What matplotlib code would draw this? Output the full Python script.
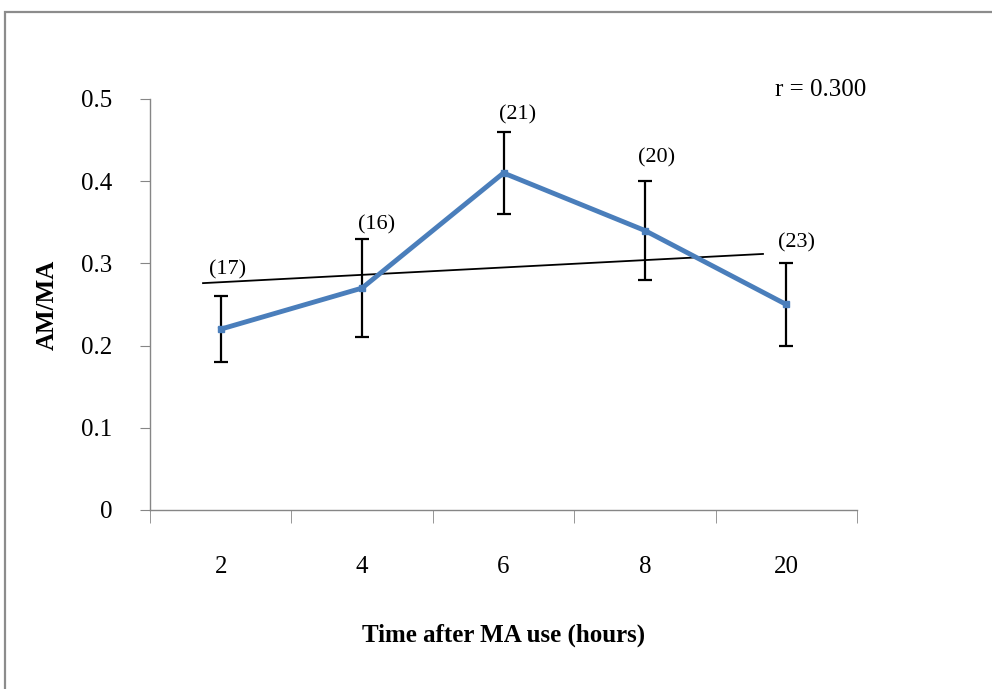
import matplotlib.pyplot as plt
from matplotlib.patches import Rectangle

# data
hours = ['2', '4', '6', '8', '20']
am_ma = [0.22, 0.27, 0.41, 0.34, 0.25]
err_low = [0.18, 0.21, 0.36, 0.28, 0.20]
err_high = [0.26, 0.33, 0.46, 0.40, 0.30]
n_labels = ['(17)', '(16)', '(21)', '(20)', '(23)']
label_x = [1.05, 2.10, 3.10, 4.08, 5.07]
label_y = [0.292, 0.347, 0.481, 0.428, 0.325]
trend_x = [0.875, 4.835]
trend_y = [0.276, 0.3115]

plt.rcParams['font.family'] = ['Liberation Serif', 'DejaVu Serif']

fig = plt.figure(figsize=(9.92, 6.89), dpi=100)
ax = fig.add_axes([150 / 992, 1 - 510 / 689, (857 - 150) / 992, (510 - 99) / 689])

# outer gray frame of the chart area
fig.patches.append(Rectangle((5 / 992, -0.1), 1.2, 1 - 12 / 689 + 0.1,
                             transform=fig.transFigure, fill=False,
                             edgecolor='#8c8c8c', linewidth=1.6))

xs = list(range(1, len(hours) + 1))
yerr = [[v - lo for v, lo in zip(am_ma, err_low)],
        [hi - v for v, hi in zip(am_ma, err_high)]]

ax.plot(trend_x, trend_y, color='black', linewidth=1.3, zorder=2)
ax.errorbar(xs, am_ma, yerr=yerr, fmt='none', ecolor='black',
            elinewidth=1.6, capsize=5, capthick=1.6, zorder=3)
ax.plot(xs, am_ma, color='#4a7ebb', linewidth=3.5, marker='s',
        markersize=5, zorder=4)

for lx, ly, t in zip(label_x, label_y, n_labels):
    ax.text(lx, ly, t, ha='center', va='center', fontsize=16)

ax.text(5.24, 0.511, 'r = 0.300', ha='center', va='center', fontsize=18)

ax.set_xlim(0.5, 5.5)
ax.set_ylim(0, 0.5)
ax.set_yticks([0, 0.1, 0.2, 0.3, 0.4, 0.5])
ax.set_yticklabels(['0', '0.1', '0.2', '0.3', '0.4', '0.5'])
ax.set_xticks(xs)
ax.set_xticklabels(hours)
ax.set_xticks([0.5, 1.5, 2.5, 3.5, 4.5, 5.5], minor=True)

for s in ['top', 'right']:
    ax.spines[s].set_visible(False)
for s in ['left', 'bottom']:
    ax.spines[s].set_color('#868686')
    ax.spines[s].set_linewidth(1.0)

ax.tick_params(axis='y', direction='out', length=7, color='#868686',
               labelsize=18, pad=20)
ax.tick_params(axis='x', which='major', length=0, labelsize=18, pad=33)
ax.tick_params(axis='x', which='minor', direction='out', length=9,
               color='#868686')

ax.set_xlabel('Time after MA use (hours)', fontsize=18, fontweight='bold',
              labelpad=33)
ax.set_ylabel('AM/MA', fontsize=18, fontweight='bold', labelpad=16)

fig.savefig('out.png', dpi=100)
